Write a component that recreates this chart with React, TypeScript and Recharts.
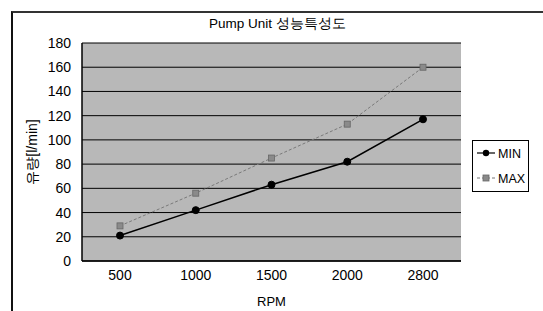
import { LineChart, Line, XAxis, YAxis, CartesianGrid } from 'recharts';

// Pump Unit 성능특성도 — flow vs RPM, min/max curves

const rpm = ['500', '1000', '1500', '2000', '2800'];
const minFlow = [21, 42, 63, 82, 117];
const maxFlow = [29, 56, 85, 113, 160];
const yTicks = [0, 20, 40, 60, 80, 100, 120, 140, 160, 180];

const data = rpm.map((r, i) => ({ rpm: r, MIN: minFlow[i], MAX: maxFlow[i] }));

const FONT = '"Liberation Sans", Arial, sans-serif';

function MinDot(props: any) {
    const { cx, cy } = props;
    if (cx == null || cy == null) return null;
    return <circle cx={cx} cy={cy} r={3.5} fill="#000" stroke="#000" />;
}

function MaxDot(props: any) {
    const { cx, cy } = props;
    if (cx == null || cy == null) return null;
    return <rect x={cx - 3} y={cy - 3} width={6} height={6} fill="#8a8a8a" stroke="#666" strokeWidth={0.8} />;
}

function YLabel(props: any) {
    const vb = props.viewBox || { x: 0, y: 43, width: 82, height: 218 };
    const cy = vb.y + vb.height / 2;
    return (
        <text
            x={32}
            y={cy}
            transform={`rotate(-90 32 ${cy})`}
            textAnchor="middle"
            dominantBaseline="central"
            fontSize={14}
            fontFamily={FONT}
            fill="#000"
        >
            유량[l/min]
        </text>
    );
}

function LegendBox() {
    return (
        <div
            style={{
                position: 'absolute',
                left: 472,
                top: 140,
                width: 57,
                height: 52,
                border: '1px solid #000',
                background: '#fff',
                boxSizing: 'border-box',
            }}
        >
            <svg width={55} height={50} style={{ display: 'block' }}>
                <line x1={4} y1={12} x2={22} y2={12} stroke="#000" strokeWidth={1.2} />
                <circle cx={13} cy={12} r={3.2} fill="#000" />
                <text x={25} y={16.5} fontSize={12.5} fontFamily={FONT} fill="#000">MIN</text>
                <line x1={4} y1={37} x2={22} y2={37} stroke="#777" strokeWidth={1} strokeDasharray="3 2" />
                <rect x={10} y={34} width={6} height={6} fill="#8a8a8a" stroke="#666" strokeWidth={0.8} />
                <text x={25} y={41.5} fontSize={12.5} fontFamily={FONT} fill="#000">MAX</text>
            </svg>
        </div>
    );
}

export default function App() {
    return (
        <div style={{ position: 'absolute', left: 0, top: 0, width: 543, height: 311, background: '#fff', overflow: 'hidden' }}>
            {/* chart frame: top + left edges visible */}
            <div
                style={{
                    position: 'absolute',
                    left: 11,
                    top: 11,
                    width: 540,
                    height: 310,
                    borderTop: '2px solid #333',
                    borderLeft: '2px solid #111',
                }}
            />
            <div
                style={{
                    position: 'absolute',
                    left: 209,
                    top: 15,
                    fontFamily: FONT,
                    fontSize: 13.5,
                    whiteSpace: 'nowrap',
                }}
            >
                Pump Unit 성능특성도
            </div>
            <LineChart
                width={543}
                height={311}
                data={data}
                margin={{ top: 43, right: 82, bottom: 0, left: 0 }}
                style={{ position: 'absolute', left: 0, top: 0, fontFamily: FONT }}
            >
                <CartesianGrid vertical={false} stroke="#000" strokeWidth={1} fill="#b8b8b8" fillOpacity={1} />
                <XAxis
                    dataKey="rpm"
                    type="category"
                    padding={{ left: 38, right: 38 }}
                    axisLine={{ stroke: '#000', strokeWidth: 1.5 }}
                    tickLine={false}
                    tickMargin={3}
                    tick={{ fill: '#000', fontSize: 14, fontFamily: FONT }}
                    height={50}
                />
                <YAxis
                    domain={[0, 180]}
                    ticks={yTicks}
                    interval={0}
                    axisLine={{ stroke: '#000', strokeWidth: 1.5 }}
                    tickLine={false}
                    tickMargin={5}
                    tick={{ fill: '#000', fontSize: 14, fontFamily: FONT }}
                    width={82}
                    label={<YLabel />}
                />
                <YAxis
                    yAxisId="frame"
                    orientation="right"
                    domain={[0, 180]}
                    width={0}
                    tick={false}
                    tickLine={false}
                    axisLine={{ stroke: '#000', strokeWidth: 1.5 }}
                />
                <Line
                    type="linear"
                    dataKey="MAX"
                    stroke="#7a7a7a"
                    strokeWidth={1}
                    strokeDasharray="3 2"
                    dot={<MaxDot />}
                    activeDot={false}
                    isAnimationActive={false}
                />
                <Line
                    type="linear"
                    dataKey="MIN"
                    stroke="#000"
                    strokeWidth={1.5}
                    dot={<MinDot />}
                    activeDot={false}
                    isAnimationActive={false}
                />
            </LineChart>
            <div
                style={{
                    position: 'absolute',
                    left: 257,
                    top: 294,
                    fontFamily: FONT,
                    fontSize: 13,
                }}
            >
                RPM
            </div>
            <LegendBox />
        </div>
    );
}
